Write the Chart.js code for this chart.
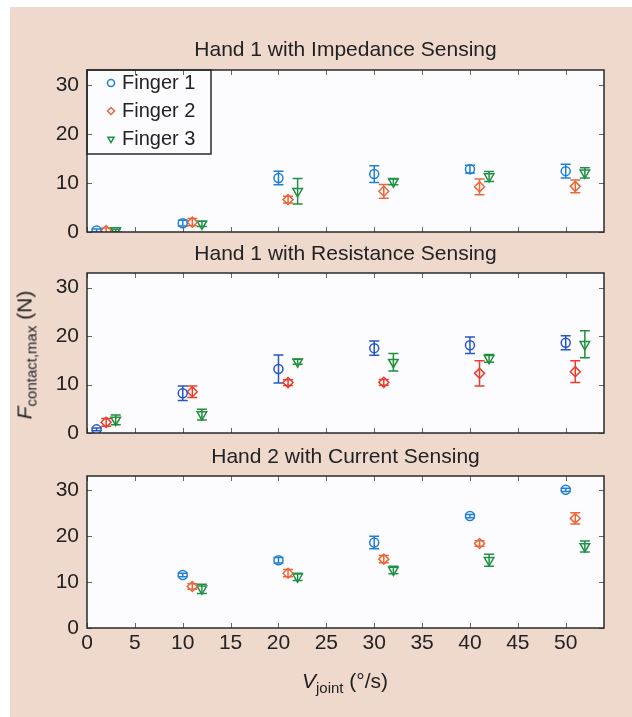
<!DOCTYPE html>
<html>
<head>
<meta charset="utf-8">
<script src="https://cdn.jsdelivr.net/npm/chart.js@4.4.1/dist/chart.umd.min.js"></script>
<style>
  html, body { margin: 0; padding: 0; background: #fff; }
  #page { position: relative; width: 632px; height: 717px; overflow: hidden; font-family: "Liberation Sans", Arial, sans-serif; color: #222; }
  #panel { position: absolute; left: 10px; top: 7px; right: 0; bottom: 0; background: #efd9cd; }
  canvas { position: absolute; left: 0; }
  .axis-label { position: absolute; font-size: 21px; line-height: 1; white-space: nowrap; }
  .axis-label sub { font-size: 15px; vertical-align: -5px; line-height: 0; }
  #ylabel { left: 24px; top: 355px; transform: translate(-50%, -50%) rotate(-90deg); }
  #xlabel { left: 345px; top: 680px; transform: translate(-50%, -50%); }
</style>
</head>
<body>
<div id="page">
  <div id="panel"></div>
  <canvas id="impedanceChart" width="632" height="260" style="top:0px"></canvas>
  <canvas id="resistanceChart" width="632" height="230" style="top:230px"></canvas>
  <canvas id="currentChart" width="632" height="287" style="top:430px"></canvas>
  <div id="ylabel" class="axis-label"><i>F</i><sub>contact,max</sub> (N)</div>
  <div id="xlabel" class="axis-label"><i>V</i><sub>joint</sub> (°/s)</div>
</div>
<script>
const fingerLabels = ["Finger 1", "Finger 2", "Finger 3"];

// joint speed (°/s); fingers are nudged right so markers sit side by side
const speedF1 = [1, 10, 20, 30, 40, 50];
const speedF2 = [2, 11, 21, 31, 41, 51];
const speedF3 = [3, 12, 22, 32, 42, 52];

// Hand 1 with impedance sensing: mean force and error (N)
const impF1 = [0.3, 1.8, 11.0, 11.8, 12.8, 12.4];
const impF1Err = [0.3, 0.6, 1.4, 1.7, 0.8, 1.4];
const impF2 = [0.3, 2.0, 6.6, 8.3, 9.2, 9.3];
const impF2Err = [0.5, 0.75, 0.7, 1.4, 1.6, 1.3];
const impF3 = [0.3, 1.65, 8.3, 10.25, 11.3, 12.05];
const impF3Err = [0.25, 0.55, 2.6, 0.65, 1.0, 1.05];

// Hand 1 with resistance sensing
const resF1 = [0.75, 8.2, 13.2, 17.5, 18.1, 18.6];
const resF1Err = [0.3, 1.5, 2.9, 1.45, 1.7, 1.45];
const resF2 = [2.2, 8.5, 10.4, 10.45, 12.3, 12.65];
const resF2Err = [0.8, 1.2, 0.6, 0.6, 2.6, 2.25];
const resF3 = [2.7, 3.8, 14.7, 14.6, 15.4, 18.3];
const resF3Err = [1.0, 1.1, 0.5, 1.8, 0.8, 2.8];

// Hand 2 with current sensing (no 1 °/s run)
const curSpeedF1 = [10, 20, 30, 40, 50];
const curSpeedF2 = [11, 21, 31, 41, 51];
const curSpeedF3 = [12, 22, 32, 42, 52];
const curF1 = [11.5, 14.7, 18.55, 24.3, 30.0];
const curF1Err = [0.4, 0.6, 1.35, 0.35, 0.35];
const curF2 = [9.0, 11.9, 14.95, 18.35, 23.8];
const curF2Err = [0.6, 0.8, 0.8, 0.6, 1.2];
const curF3 = [8.5, 11.1, 12.6, 14.7, 17.7];
const curF3Err = [1.0, 0.8, 0.8, 1.3, 1.2];

const lightColors = ["#1f80d2", "#e8683a", "#1e9146"];
const darkColors = ["#2656c4", "#ee3b2b", "#1f8f3a"];
const pointStyles = ["circle", "rectRot", "triangle"];
const pointRotations = [0, 0, 180];
const pointRadii = [4.5, 5, 5.5];

const FONT = "'Liberation Sans', Arial, sans-serif";
const TEXT = "#222";

function makeDatasets(xs, ys, errs, colors) {
    return fingerLabels.map((label, i) => ({
        label: label,
        data: xs[i].map((x, j) => ({ x: x, y: ys[i][j], err: errs[i][j] })),
        borderColor: colors[i],
        backgroundColor: "rgba(0,0,0,0)",
        pointStyle: pointStyles[i],
        pointRotation: pointRotations[i],
        pointRadius: pointRadii[i],
        pointBorderWidth: 1.5,
        showLine: false
    }));
}

// vertical error bars with caps, drawn under the markers
const errorBars = {
    id: "errorBars",
    beforeDatasetsDraw(chart) {
        const { ctx, chartArea: a, scales: { x, y } } = chart;
        ctx.save();
        ctx.beginPath();
        ctx.rect(a.left, a.top, a.width, a.height);
        ctx.clip();
        ctx.lineWidth = 1.5;
        chart.data.datasets.forEach(ds => {
            ctx.strokeStyle = ds.borderColor;
            ds.data.forEach(p => {
                const px = x.getPixelForValue(p.x);
                const top = y.getPixelForValue(p.y + p.err);
                const bot = y.getPixelForValue(p.y - p.err);
                ctx.beginPath();
                ctx.moveTo(px, top); ctx.lineTo(px, bot);
                ctx.moveTo(px - 5, top); ctx.lineTo(px + 5, top);
                ctx.moveTo(px - 5, bot); ctx.lineTo(px + 5, bot);
                ctx.stroke();
            });
        });
        ctx.restore();
    }
};

// white plot area, box outline and inward tick marks
const frame = {
    id: "frame",
    beforeDraw(chart) {
        const { ctx, chartArea: a } = chart;
        ctx.save();
        ctx.fillStyle = "#fcfcfe";
        ctx.fillRect(a.left, a.top, a.width, a.height);
        ctx.restore();
    },
    afterLayout(chart) {
        const lg = chart.legend;
        if (lg && chart.options.plugins.legend.display) {
            lg.left = chart.chartArea.left + 15;
            lg.top = chart.chartArea.top - 5;
        }
    },
    afterDraw(chart) {
        const { ctx, chartArea: a, scales: { x, y } } = chart;
        ctx.save();
        ctx.strokeStyle = "#666";
        ctx.lineWidth = 1;
        ctx.beginPath();
        x.ticks.forEach(t => {
            const px = Math.round(x.getPixelForValue(t.value)) + 0.5;
            ctx.moveTo(px, a.bottom); ctx.lineTo(px, a.bottom - 5);
            ctx.moveTo(px, a.top); ctx.lineTo(px, a.top + 5);
        });
        y.ticks.forEach(t => {
            const py = Math.round(y.getPixelForValue(t.value)) + 0.5;
            ctx.moveTo(a.left, py); ctx.lineTo(a.left + 5, py);
            ctx.moveTo(a.right, py); ctx.lineTo(a.right - 5, py);
        });
        ctx.stroke();
        ctx.strokeStyle = "#2a2a2a";
        ctx.lineWidth = 1.5;
        ctx.strokeRect(a.left, a.top, a.width, a.height);
        if (chart.options.plugins.legend.display) {
            ctx.strokeRect(a.left, a.top, 124, 84);
        }
        ctx.restore();
    }
};

function renderPanel(canvasId, title, datasets, titlePad, bottomPad, showXLabels, showLegend) {
    const ctx = document.getElementById(canvasId).getContext("2d");
    return new Chart(ctx, {
        type: "scatter",
        data: { datasets: datasets },
        options: {
            responsive: false,
            animation: false,
            devicePixelRatio: 1,
            events: [],
            layout: { padding: { top: 0, left: 0, right: 28, bottom: bottomPad } },
            plugins: {
                tooltip: { enabled: false },
                title: {
                    display: true,
                    text: title,
                    fullSize: false,
                    color: TEXT,
                    font: { size: 21, family: FONT, weight: "normal" },
                    padding: titlePad
                },
                legend: {
                    display: showLegend,
                    position: "chartArea",
                    align: "start",
                    labels: {
                        usePointStyle: true,
                        boxWidth: 2,
                        boxHeight: 5,
                        padding: 8,
                        color: TEXT,
                        font: { size: 20, family: FONT }
                    }
                }
            },
            scales: {
                x: {
                    type: "linear",
                    min: 0,
                    max: 54,
                    grid: { display: false, drawTicks: false },
                    border: { display: false },
                    ticks: {
                        display: showXLabels,
                        stepSize: 5,
                        includeBounds: false,
                        autoSkip: false,
                        maxRotation: 0,
                        padding: 3,
                        color: TEXT,
                        font: { size: 21, family: FONT }
                    }
                },
                y: {
                    min: 0,
                    max: 33,
                    afterFit(scale) { scale.width = 87; },
                    grid: { display: false, drawTicks: false },
                    border: { display: false },
                    ticks: {
                        stepSize: 10,
                        includeBounds: false,
                        padding: 8,
                        color: TEXT,
                        font: { size: 21, family: FONT }
                    }
                }
            }
        },
        plugins: [frame, errorBars]
    });
}

renderPanel(
    "impedanceChart",
    "Hand 1 with Impedance Sensing",
    makeDatasets([speedF1, speedF2, speedF3], [impF1, impF2, impF3], [impF1Err, impF2Err, impF3Err], lightColors),
    { top: 37.4, bottom: 7.4 }, 28, false, true
);

renderPanel(
    "resistanceChart",
    "Hand 1 with Resistance Sensing",
    makeDatasets([speedF1, speedF2, speedF3], [resF1, resF2, resF3], [resF1Err, resF2Err, resF3Err], darkColors),
    { top: 11.4, bottom: 6.4 }, 27, false, false
);

renderPanel(
    "currentChart",
    "Hand 2 with Current Sensing",
    makeDatasets([curSpeedF1, curSpeedF2, curSpeedF3], [curF1, curF2, curF3], [curF1Err, curF2Err, curF3Err], lightColors),
    { top: 14.4, bottom: 6.4 }, 57.8, true, false
);
</script>
</body>
</html>
